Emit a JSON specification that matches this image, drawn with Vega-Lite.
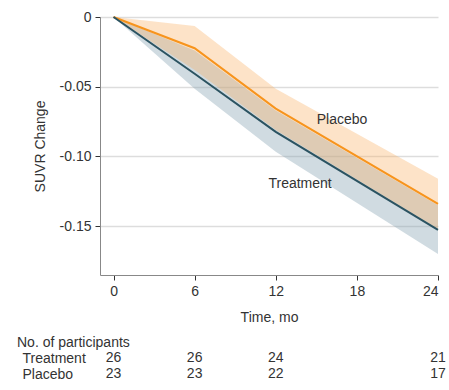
{
  "$schema": "https://vega.github.io/schema/vega-lite/v6.json",
  "padding": {"left": 17, "top": 10, "right": 0, "bottom": 0},
  "spacing": 12,
  "config": {
    "font": "Liberation Sans",
    "view": {"stroke": null},
    "axis": {
      "labelFontSize": 14,
      "titleFontSize": 14,
      "titleFontWeight": "normal",
      "labelColor": "#333333",
      "titleColor": "#333333",
      "domainColor": "#888888",
      "tickColor": "#333333",
      "gridColor": "#DDDDDD",
      "gridWidth": 1.5
    },
    "title": {"fontSize": 14, "fontWeight": "normal", "color": "#333333"}
  },
  "datasets": {
    "curves": [
      {"time": 0, "group": "Placebo", "mean": 0, "lo": 0, "hi": 0},
      {"time": 6, "group": "Placebo", "mean": -0.0224, "lo": -0.038, "hi": -0.0065},
      {"time": 12, "group": "Placebo", "mean": -0.0657, "lo": -0.081, "hi": -0.0514},
      {"time": 24, "group": "Placebo", "mean": -0.134, "lo": -0.152, "hi": -0.116},
      {"time": 0, "group": "Treatment", "mean": 0, "lo": 0, "hi": 0},
      {"time": 6, "group": "Treatment", "mean": -0.0407, "lo": -0.0514, "hi": -0.024},
      {"time": 12, "group": "Treatment", "mean": -0.0824, "lo": -0.0967, "hi": -0.067},
      {"time": 24, "group": "Treatment", "mean": -0.1526, "lo": -0.17, "hi": -0.135}
    ],
    "labels": [
      {"label": "Placebo", "lx": 16.9, "ly": -0.0741},
      {"label": "Treatment", "lx": 13.8, "ly": -0.1195}
    ],
    "counts": [
      {"group": "Treatment", "time": 0, "n": 26},
      {"group": "Treatment", "time": 6, "n": 26},
      {"group": "Treatment", "time": 12, "n": 24},
      {"group": "Treatment", "time": 24, "n": 21},
      {"group": "Placebo", "time": 0, "n": 23},
      {"group": "Placebo", "time": 6, "n": 23},
      {"group": "Placebo", "time": 12, "n": 22},
      {"group": "Placebo", "time": 24, "n": 17}
    ]
  },
  "vconcat": [
    {
      "width": 338,
      "height": 258,
      "layer": [
        {
          "data": {"name": "curves"},
          "transform": [{"filter": "datum.group === 'Treatment'"}],
          "mark": {"type": "area", "color": "#89A5B4", "opacity": 0.4},
          "encoding": {
            "x": {
              "field": "time", "type": "quantitative",
              "scale": {"domain": [-1, 24], "nice": false, "zero": false},
              "axis": {"values": [0, 6, 12, 18, 24], "grid": false, "title": "Time, mo", "tickSize": 5, "labelPadding": 4, "titlePadding": 12}
            },
            "y": {
              "field": "lo", "type": "quantitative",
              "scale": {"domain": [-0.185, 0], "nice": false, "zero": false},
              "axis": {
                "values": [0, -0.05, -0.1, -0.15],
                "labelExpr": "datum.value == 0 ? '0' : '-' + format(-datum.value, '.2f')",
                "title": "SUVR Change",
                "tickSize": 5,
                "labelPadding": 4,
                "titlePadding": 12,
                "grid": true
              }
            },
            "y2": {"field": "hi"}
          }
        },
        {
          "data": {"name": "curves"},
          "transform": [{"filter": "datum.group === 'Placebo'"}],
          "mark": {"type": "area", "color": "#F9AF62", "opacity": 0.35},
          "encoding": {
            "x": {"field": "time", "type": "quantitative"},
            "y": {"field": "lo", "type": "quantitative"},
            "y2": {"field": "hi"}
          }
        },
        {
          "data": {"name": "curves"},
          "mark": {"type": "line", "strokeWidth": 2},
          "encoding": {
            "x": {"field": "time", "type": "quantitative"},
            "y": {"field": "mean", "type": "quantitative"},
            "color": {
              "field": "group", "type": "nominal",
              "scale": {"domain": ["Placebo", "Treatment"], "range": ["#F7941D", "#2B5361"]},
              "legend": null
            }
          }
        },
        {
          "data": {"name": "labels"},
          "mark": {"type": "text", "fontSize": 14, "color": "#333333", "align": "center"},
          "encoding": {
            "x": {"field": "lx", "type": "quantitative"},
            "y": {"field": "ly", "type": "quantitative"},
            "text": {"field": "label"}
          }
        }
      ]
    },
    {
      "width": 338,
      "height": 32,
      "data": {"name": "counts"},
      "title": {"text": "No. of participants", "anchor": "start", "frame": "bounds", "offset": 0, "dx": -5},
      "mark": {"type": "text", "fontSize": 14, "color": "#333333", "align": "center"},
      "encoding": {
        "x": {
          "field": "time", "type": "quantitative",
          "scale": {"domain": [-1, 24], "nice": false, "zero": false},
          "axis": null
        },
        "y": {
          "field": "group", "type": "nominal",
          "scale": {"domain": ["Treatment", "Placebo"]},
          "axis": {"title": null, "domain": false, "ticks": false, "grid": false, "labelAlign": "left", "labelPadding": 78}
        },
        "text": {"field": "n", "type": "quantitative"}
      }
    }
  ]
}
